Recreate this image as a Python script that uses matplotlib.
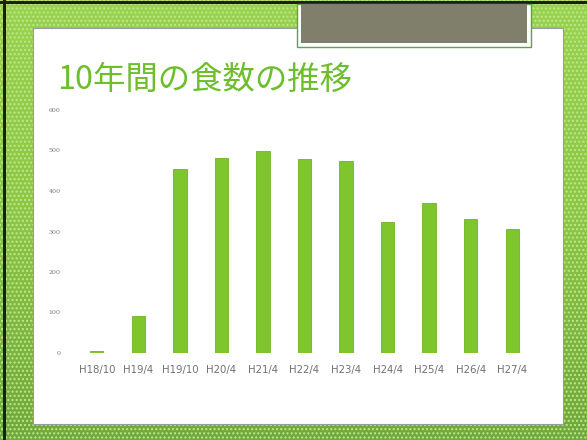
import matplotlib
matplotlib.use("Agg")
import matplotlib.pyplot as plt
import numpy as np
from matplotlib.patches import Rectangle
from matplotlib.colors import LinearSegmentedColormap

# 食数データ
periods = ["H18/10", "H19/4", "H19/10", "H20/4", "H21/4", "H22/4",
           "H23/4", "H24/4", "H25/4", "H26/4", "H27/4"]
meals = [5, 91, 454, 481, 499, 479, 474, 323, 370, 331, 306]
yticks = [0, 100, 200, 300, 400, 500, 600]

W, H = 587, 440
fig = plt.figure(figsize=(W / 100, H / 100), dpi=100)

# green gradient backdrop of the slide
bg = fig.add_axes([0, 0, 1, 1], zorder=-20)
cmap = LinearSegmentedColormap.from_list("frame", ["#98d24f", "#8cc646", "#6fa83c"])
bg.imshow(np.linspace(0, 1, 100).reshape(-1, 1), aspect="auto", cmap=cmap,
          extent=[0, 1, 0, 1], origin="upper")
bg.set_axis_off()

def px_rect(x0, y0, x1, y1, z, **kw):
    # pixel box (top-left origin) -> figure fraction
    r = Rectangle((x0 / W, 1 - y1 / H), (x1 - x0) / W, (y1 - y0) / H,
                  transform=fig.transFigure, figure=fig, zorder=z, **kw)
    fig.patches.append(r)
    return r

# slide frame
px_rect(0, 0, W, H, -10, facecolor="none", edgecolor="#c0e88a", hatch="....", lw=0)
px_rect(0, 1, W, 4, -9, facecolor="#1e1e1e", lw=0)
px_rect(3, 0, 6, H, -9, facecolor="#1e1e1e", lw=0)
px_rect(33, 28, 563, 424, -8, facecolor="white", edgecolor="#9a9a9a", lw=0.8)
# gray title tab
px_rect(297, 4, 531, 47, -7, facecolor="white", edgecolor="#5aa83a", lw=1.0)
px_rect(301, 4, 527, 43, -6, facecolor="#7f7f6c", lw=0)

fig.text(57 / W, 1 - 80 / H, "10年間の食数の推移", color="#6cbf2b", fontsize=23.3,
         family=["Noto Sans CJK JP", "DejaVu Sans"], va="center", ha="left")

ax = fig.add_axes([76 / W, 1 - 353 / H, (533 - 76) / W, (353 - 110) / H])
ax.set_zorder(5)
ax.set_facecolor("none")
ax.bar(range(len(periods)), meals, width=0.32, color="#7fc62e", edgecolor="#6db521", lw=0.6)
ax.set_xlim(-0.5, len(periods) - 0.5)
ax.set_ylim(0, 600)
ax.set_yticks(yticks)
ax.set_yticklabels([str(v) for v in yticks], fontsize=4.5, color="#777777", family="DejaVu Serif")
ax.set_xticks(range(len(periods)))
ax.set_xticklabels(periods, fontsize=7.3, color="#707070", family="DejaVu Sans")
ax.tick_params(axis="y", length=0, pad=11)
ax.tick_params(axis="x", length=0, pad=9)
for s in ax.spines.values():
    s.set_visible(False)

fig.savefig("out.png", dpi=100)
